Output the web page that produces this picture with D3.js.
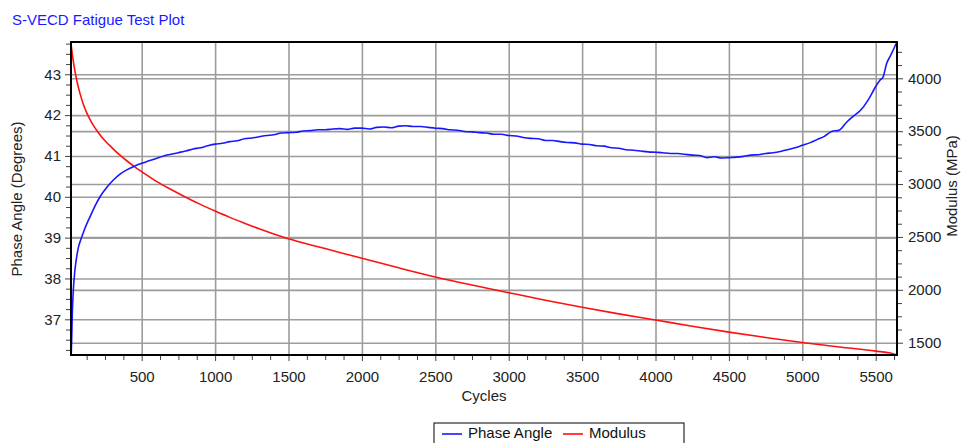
<!DOCTYPE html>
<html>
<head>
<title>S-VECD Fatigue Test Plot</title>
<script src="https://d3js.org/d3.v7.min.js"></script>
<style>
    body { margin: 0; background: #fff; }
    svg { font-family: "Liberation Sans", Arial, sans-serif; }
    .tick text { font-size: 15px; fill: #222; }
    .grid line { stroke: #9c9c9c; stroke-width: 1.6px; }
    .axis-label { font-size: 15px; fill: #222; }
</style>
</head>
<body>
<svg id="chart" width="962" height="443"></svg>
<script>
// data
const phaseCycles = [20, 23, 27, 34, 45, 57, 70, 85, 102, 125, 148, 180, 216, 260, 307, 350, 398, 450,
    500, 550, 600, 650, 700, 750, 800, 850, 900, 950, 1000, 1050, 1100, 1150, 1200, 1250, 1300, 1350,
    1400, 1450, 1500, 1550, 1600, 1650, 1700, 1750, 1800, 1850, 1900, 1950, 2000, 2050, 2100, 2150,
    2200, 2250, 2300, 2350, 2400, 2450, 2500, 2550, 2600, 2650, 2700, 2750, 2800, 2850, 2900, 2950,
    3000, 3050, 3100, 3150, 3200, 3250, 3300, 3350, 3400, 3450, 3500, 3550, 3600, 3650, 3700, 3750,
    3800, 3850, 3900, 3950, 4000, 4050, 4100, 4150, 4200, 4250, 4300, 4350, 4400, 4450, 4500, 4550,
    4600, 4650, 4700, 4750, 4800, 4850, 4900, 4950, 5000, 5050, 5100, 5150, 5200, 5250, 5300, 5350,
    5400, 5450, 5500, 5530, 5550, 5575, 5600, 5620, 5643];
const phaseAngle = [36.15, 36.5, 37.1, 37.7, 38.2, 38.53, 38.78, 38.95, 39.12, 39.33, 39.51, 39.76, 40.0, 40.22, 40.41, 40.55, 40.66, 40.75,
    40.82, 40.88, 40.94, 41.0, 41.04, 41.08, 41.12, 41.17, 41.2, 41.25, 41.29, 41.31, 41.35, 41.37, 41.42, 41.44, 41.47, 41.5,
    41.52, 41.56, 41.57, 41.58, 41.61, 41.62, 41.64, 41.64, 41.66, 41.67, 41.65, 41.68, 41.68, 41.66, 41.7, 41.71,
    41.69, 41.73, 41.74, 41.72, 41.72, 41.7, 41.68, 41.67, 41.64, 41.63, 41.6, 41.59, 41.57, 41.56, 41.53, 41.53,
    41.5, 41.49, 41.45, 41.43, 41.42, 41.38, 41.38, 41.35, 41.33, 41.32, 41.29, 41.28, 41.25, 41.24, 41.2, 41.19,
    41.15, 41.14, 41.12, 41.1, 41.09, 41.08, 41.06, 41.06, 41.04, 41.02, 41.01, 40.96, 40.98, 40.95, 40.96, 40.97,
    40.99, 41.02, 41.03, 41.06, 41.08, 41.11, 41.15, 41.2, 41.26, 41.32, 41.4, 41.48, 41.6, 41.63, 41.82, 41.98,
    42.13, 42.38, 42.7, 42.86, 42.93, 43.27, 43.45, 43.6, 43.78];

const modCycles = [20, 30, 45, 60, 80, 100, 125, 150, 175, 200, 250, 300, 350, 400, 450, 500, 600, 700, 800,
    900, 1000, 1100, 1200, 1300, 1400, 1500, 1750, 2000, 2250, 2500, 2750, 3000, 3250, 3500, 3750, 4000,
    4250, 4500, 4750, 5000, 5250, 5500, 5600, 5643];
const modulus = [4310, 4200, 4070, 3965, 3855, 3765, 3675, 3605, 3545, 3495, 3410, 3340, 3275, 3218, 3165, 3117, 3025, 2948, 2876,
    2808, 2745, 2685, 2630, 2577, 2528, 2482, 2390, 2298, 2208, 2122, 2045, 1973, 1902, 1835, 1773, 1715,
    1656, 1600, 1550, 1502, 1460, 1421, 1402, 1385];

const xTicks = [500, 1000, 1500, 2000, 2500, 3000, 3500, 4000, 4500, 5000, 5500];
const leftTicks = [37, 38, 39, 40, 41, 42, 43];
const rightTicks = [1500, 2000, 2500, 3000, 3500, 4000];

const svg = d3.select('#chart');
const margin = { top: 42, left: 71, right: 65, bottom: 88 };
const width = 962 - margin.left - margin.right;
const height = 443 - margin.top - margin.bottom;

const x = d3.scaleLinear().domain([18.4, 5645]).range([0, width]);
const yL = d3.scaleLinear().domain([36.126, 43.79]).range([height, 0]);
const yR = d3.scaleLinear().domain([1384, 4343]).range([height, 0]);

const g = svg.append('g').attr('transform', `translate(${margin.left},${margin.top})`);

// grid lines
g.append('g').attr('class', 'grid')
    .call(d3.axisBottom(x).tickValues(xTicks).tickSize(height).tickFormat(''))
    .call(a => a.select('.domain').remove());
g.append('g').attr('class', 'grid')
    .call(d3.axisLeft(yL).tickValues(leftTicks).tickSize(-width).tickFormat(''))
    .call(a => a.select('.domain').remove());
g.append('g').attr('class', 'grid')
    .call(d3.axisLeft(yR).tickValues(rightTicks).tickSize(-width).tickFormat(''))
    .call(a => a.select('.domain').remove());

// minor ticks
const xMinor = d3.range(125, 5645, 125).filter(v => v % 500 !== 0);
const lMinor = d3.range(36.25, 43.8, 0.25).filter(v => v % 1 !== 0);
const rMinor = d3.range(1500, 4343, 125).filter(v => v % 500 !== 0);
g.append('g').attr('transform', `translate(0,${height})`)
    .call(d3.axisBottom(x).tickValues(xMinor).tickSize(5).tickFormat(''));
g.append('g').call(d3.axisLeft(yL).tickValues(lMinor).tickSize(5).tickFormat(''));
g.append('g').attr('transform', `translate(${width},0)`)
    .call(d3.axisRight(yR).tickValues(rMinor).tickSize(5).tickFormat(''));

// major axes
g.append('g').attr('transform', `translate(0,${height})`)
    .call(d3.axisBottom(x).tickValues(xTicks).tickSize(6).tickPadding(10).tickFormat(d3.format('d')));
g.append('g').call(d3.axisLeft(yL).tickValues(leftTicks).tickSize(6).tickPadding(4).tickFormat(d3.format('d')));
g.append('g').attr('transform', `translate(${width},0)`)
    .call(d3.axisRight(yR).tickValues(rightTicks).tickSize(6).tickPadding(5).tickFormat(d3.format('d')));
g.selectAll('.domain').remove();
g.selectAll('.tick line').filter(function () { return !this.closest('.grid'); })
    .attr('stroke', '#444');

// series
g.append('path')
    .datum(modCycles.map((c, i) => [c, modulus[i]]))
    .attr('fill', 'none').attr('stroke', '#ff1010').attr('stroke-width', 1.6)
    .attr('d', d3.line().x(d => x(d[0])).y(d => yR(d[1])).curve(d3.curveMonotoneX));
g.append('path')
    .datum(phaseCycles.map((c, i) => [c, phaseAngle[i]]))
    .attr('fill', 'none').attr('stroke', '#1818ff').attr('stroke-width', 1.6)
    .attr('d', d3.line().x(d => x(d[0])).y(d => yL(d[1])).curve(d3.curveMonotoneX));

// frame
g.append('rect').attr('width', width).attr('height', height)
    .attr('fill', 'none').attr('stroke', '#000').attr('stroke-width', 2);

// titles
svg.append('text').attr('x', 12).attr('y', 25)
    .style('font-size', '15px').attr('fill', '#1a1aff').text('S-VECD Fatigue Test Plot');
svg.append('text').attr('class', 'axis-label')
    .attr('text-anchor', 'middle').attr('x', margin.left + width / 2).attr('y', 401)
    .text('Cycles');
svg.append('text').attr('class', 'axis-label')
    .attr('transform', 'translate(22,199) rotate(-90)')
    .attr('text-anchor', 'middle').text('Phase Angle (Degrees)');
svg.append('text').attr('class', 'axis-label')
    .attr('transform', 'translate(957,186) rotate(-90)')
    .attr('text-anchor', 'middle').text('Modulus (MPa)');

// legend
const legend = svg.append('g').attr('transform', 'translate(434,423)');
legend.append('rect').attr('width', 250).attr('height', 30)
    .attr('fill', '#fff').attr('stroke', '#000').attr('stroke-width', 1);
const items = [
    { name: 'Phase Angle', color: '#1818ff', x: 8 },
    { name: 'Modulus', color: '#ff1010', x: 129 }
];
items.forEach(it => {
    legend.append('line').attr('x1', it.x).attr('x2', it.x + 20).attr('y1', 11).attr('y2', 11)
        .attr('stroke', it.color).attr('stroke-width', 1.6);
    legend.append('text').attr('x', it.x + 26).attr('y', 15)
        .style('font-size', '15px').attr('fill', '#111').text(it.name);
});
</script>
</body>
</html>
